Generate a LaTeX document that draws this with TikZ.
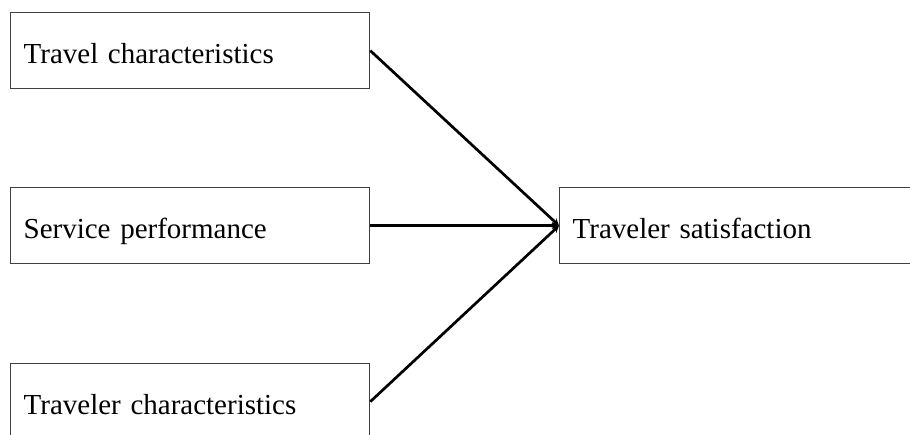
\documentclass[tikz,border=0pt]{standalone}
\usepackage{fontspec}
\setmainfont{Liberation Serif}
\usetikzlibrary{arrows.meta}

\tikzset{
  factor/.style={draw=black!75, line width=1.3pt, fill=white, anchor=north west,
    minimum width=359pt, minimum height=76pt, inner xsep=13pt, inner ysep=0pt,
    text width=333pt, align=left, text height=26pt, text depth=0pt,
    font=\fontsize{29}{34}\selectfont},
  link/.style={line width=2.7pt, -{Stealth[length=7pt,width=7pt]}}
}

\begin{document}
\begin{tikzpicture}[x=1pt,y=-1pt]
  \clip (0,0) rectangle (910,435);

  \node[factor] (travel)  at (10,12)   {Travel characteristics};
  \node[factor] (service) at (10,187)  {Service performance};
  \node[factor] (traveler) at (10,363) {Traveler characteristics};
  \node[factor] (satisf)  at (559,187) {Traveler satisfaction};

  \draw[link] (travel.east)   -- (satisf.west);
  \draw[link] (service.east)  -- (satisf.west);
  \draw[link] (traveler.east) -- (satisf.west);
\end{tikzpicture}
\end{document}
